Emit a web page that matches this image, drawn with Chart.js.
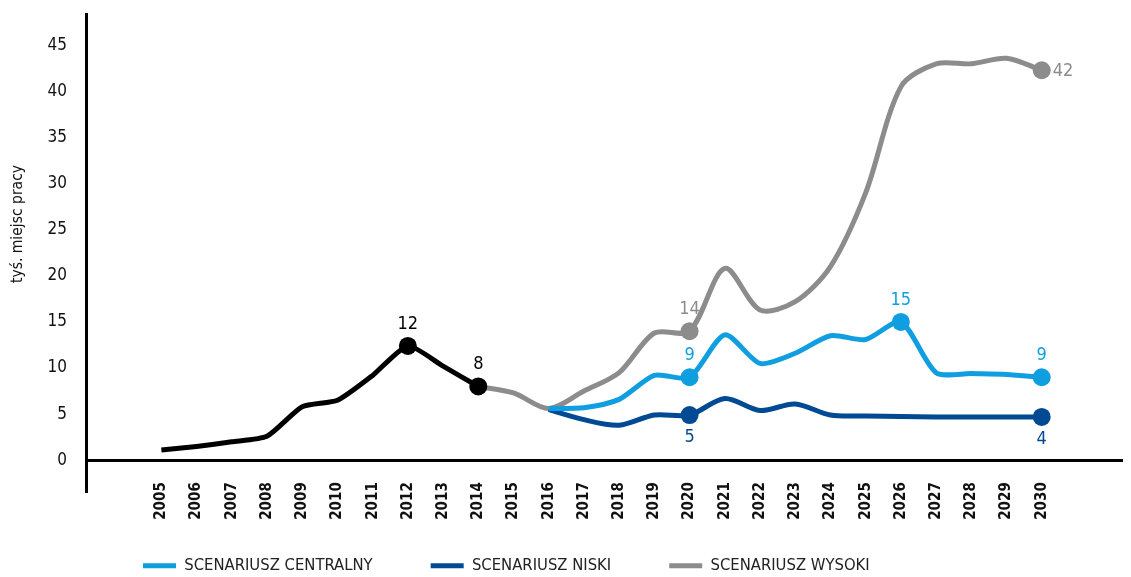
<!DOCTYPE html>
<html>
<head>
<meta charset="utf-8">
<script src="https://cdn.jsdelivr.net/npm/chart.js@4.4.1/dist/chart.umd.min.js"></script>
<style>
    html, body { margin: 0; padding: 0; background: #fff; }
    #wrap { width: 1131px; height: 577px; }
</style>
</head>
<body>
<div id="wrap"><canvas id="myChart"></canvas></div>
<script>
// tick labels
const xTicks = [2005, 2006, 2007, 2008, 2009, 2010, 2011, 2012, 2013, 2014, 2015, 2016, 2017,
    2018, 2019, 2020, 2021, 2022, 2023, 2024, 2025, 2026, 2027, 2028, 2029, 2030];
const yTicks = [0, 5, 10, 15, 20, 25, 30, 35, 40, 45];
const yTitle = 'tyś. miejsc pracy';

// historia (czarna linia)
const histYears = [2005, 2006, 2007, 2008, 2009, 2010, 2011, 2012, 2013, 2014];
const histValues = [1.1, 1.5, 2.0, 2.6, 5.8, 6.5, 9.2, 12.4, 10.2, 8.0];
const histMarks = [2012, 2014];
const histLabels = ['12', '8'];

// scenariusz wysoki
const highYears = [2014, 2015, 2016, 2017, 2018, 2019, 2020, 2021, 2022, 2023, 2024, 2025, 2026, 2027, 2028, 2029, 2030];
const highValues = [8.0, 7.3, 5.6, 7.5, 9.5, 13.8, 14.0, 20.8, 16.3, 17.2, 21.0, 29.0, 40.5, 43.0, 43.0, 43.6, 42.3];
const highMarks = [2020, 2030];
const highLabels = ['14', '42'];

// scenariusz centralny
const centralYears = [2016, 2017, 2018, 2019, 2020, 2021, 2022, 2023, 2024, 2025, 2026, 2027, 2028, 2029, 2030];
const centralValues = [5.6, 5.7, 6.6, 9.2, 9.0, 13.6, 10.5, 11.6, 13.5, 13.1, 15.0, 9.5, 9.4, 9.3, 9.0];
const centralMarks = [2020, 2026, 2030];
const centralLabels = ['9', '15', '9'];

// scenariusz niski
const lowYears = [2016, 2017, 2018, 2019, 2020, 2021, 2022, 2023, 2024, 2025, 2026, 2027, 2028, 2029, 2030];
const lowValues = [5.5, 4.4, 3.8, 4.9, 4.9, 6.7, 5.4, 6.1, 4.9, 4.8, 4.75, 4.7, 4.7, 4.7, 4.7];
const lowMarks = [2020, 2030];
const lowLabels = ['5', '4'];

const FONT = "'Liberation Sans Narrow', 'DejaVu Sans Condensed', 'Roboto', sans-serif";

function toPoints(xs, ys) {
    return xs.map((x, i) => ({ x: x, y: ys[i] }));
}

function series(label, xs, ys, marks, texts, color, order, sides, tension) {
    return {
        label: label,
        data: toPoints(xs, ys),
        borderColor: color,
        backgroundColor: color,
        borderWidth: 5,
        tension: tension,
        order: order,
        pointRadius: ctx => marks.includes(ctx.raw.x) ? 9 : 0,
        pointBorderWidth: 0,
        pointHoverRadius: 0,
        marks: marks,
        markTexts: texts,
        markSides: sides
    };
}

// opisy wartości przy kropkach
const markLabels = {
    id: 'markLabels',
    afterDatasetsDraw(chart) {
        const c = chart.ctx;
        chart.data.datasets.forEach((ds, i) => {
            const meta = chart.getDatasetMeta(i);
            ds.marks.forEach((yr, k) => {
                const idx = ds.data.findIndex(p => p.x === yr);
                const pt = meta.data[idx];
                if (!pt) return;
                const side = ds.markSides[k];
                c.save();
                c.fillStyle = ds.borderColor;
                c.font = '18px ' + FONT;
                c.textBaseline = 'middle';
                if (side === 'right') {
                    c.textAlign = 'left';
                    c.fillText(ds.markTexts[k], pt.x + 11, pt.y + 1);
                } else if (side === 'below') {
                    c.textAlign = 'center';
                    c.fillText(ds.markTexts[k], pt.x, pt.y + 22);
                } else {
                    c.textAlign = 'center';
                    c.fillText(ds.markTexts[k], pt.x, pt.y - 22);
                }
                c.restore();
            });
        });
    }
};

// tytuł osi Y (trochę wyżej niż środek osi)
const yAxisTitle = {
    id: 'yAxisTitle',
    afterDraw(chart) {
        const c = chart.ctx;
        c.save();
        c.translate(18, 224);
        c.rotate(-Math.PI / 2);
        c.fillStyle = '#111';
        c.font = '15.5px ' + FONT;
        c.textAlign = 'center';
        c.textBaseline = 'middle';
        c.fillText(yTitle, 0, 0);
        c.restore();
    }
};

// legenda przesunięta jak na oryginale
const legendShift = {
    id: 'legendShift',
    afterLayout(chart) {
        chart.legend.left = 85;
        chart.legend.top += 7;
    }
};

function myChart() {
    let ctx = document.getElementById('myChart').getContext('2d');
    new Chart(ctx, {
        type: 'line',
        data: {
            datasets: [
                series('historia', histYears, histValues, histMarks, histLabels, '#000000', 0, ['above', 'above'], 0.2),
                series('SCENARIUSZ CENTRALNY', centralYears, centralValues, centralMarks, centralLabels, '#0f9ee0', 1, ['above', 'above', 'above'], 0.25),
                series('SCENARIUSZ NISKI', lowYears, lowValues, lowMarks, lowLabels, '#004a94', 2, ['below', 'below'], 0.3),
                series('SCENARIUSZ WYSOKI', highYears, highValues, highMarks, highLabels, '#8c8c8c', 3, ['above', 'right'], 0.3)
            ]
        },
        plugins: [markLabels, legendShift, yAxisTitle],
        options: {
            responsive: true,
            maintainAspectRatio: false,
            animation: false,
            layout: { padding: { top: 14, left: 0, right: 0, bottom: 0 } },
            plugins: {
                tooltip: { enabled: false },
                legend: {
                    position: 'bottom',
                    align: 'start',
                    labels: {
                        padding: 58,
                        boxWidth: 33,
                        boxHeight: 5,
                        color: '#222',
                        font: { family: FONT, size: 16.5 },
                        generateLabels(chart) {
                            return Chart.defaults.plugins.legend.labels.generateLabels(chart)
                                .filter(l => l.datasetIndex !== 0)
                                .map(l => Object.assign(l, { lineWidth: 0 }));
                        }
                    }
                }
            },
            scales: {
                x: {
                    type: 'linear',
                    position: { y: 0 },
                    min: 2002.86,
                    max: 2032.28,
                    afterBuildTicks(scale) { scale.ticks = xTicks.map(v => ({ value: v })); },
                    grid: { display: false, drawTicks: false },
                    border: { display: true, color: '#000', width: 3 },
                    ticks: {
                        autoSkip: false,
                        minRotation: 90,
                        maxRotation: 90,
                        padding: 22,
                        color: '#111',
                        font: { family: FONT, size: 15, weight: 'bold' },
                        callback: v => String(v)
                    }
                },
                y: {
                    min: -3.5,
                    max: 48.4,
                    afterBuildTicks(scale) { scale.ticks = yTicks.map(v => ({ value: v })); },
                    afterFit(scale) { scale.width = 86; },
                    border: { display: true, color: '#000', width: 3 },
                    grid: { display: false, drawTicks: true, tickLength: 19 },
                    ticks: {
                        padding: 0,
                        color: '#111',
                        font: { family: FONT, size: 17 },
                        callback: v => String(v)
                    }
                }
            }
        }
    });
}
myChart()
</script>
</body>
</html>
